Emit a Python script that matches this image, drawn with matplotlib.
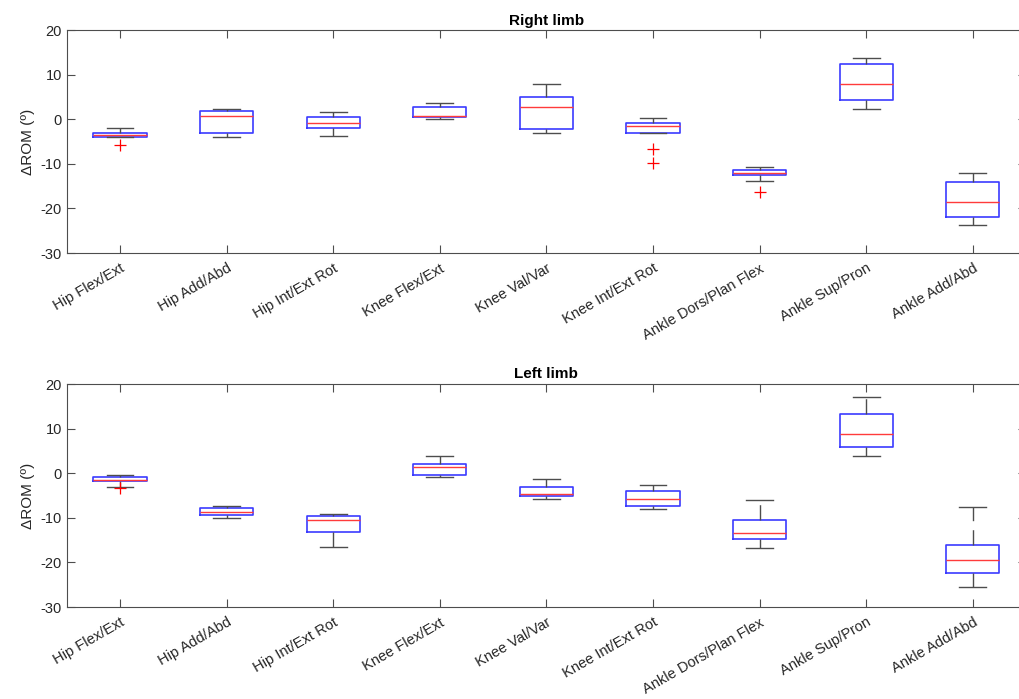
import matplotlib
matplotlib.use("Agg")
import matplotlib.pyplot as plt

categories = ["Hip Flex/Ext", "Hip Add/Abd", "Hip Int/Ext Rot", "Knee Flex/Ext",
              "Knee Val/Var", "Knee Int/Ext Rot", "Ankle Dors/Plan Flex",
              "Ankle Sup/Pron", "Ankle Add/Abd"]

# Right limb box statistics
right_whislo = [-4.0, -4.0, -3.7, 0.0, -3.1, -3.1, -13.8, 2.3, -23.7]
right_q1     = [-4.0, -3.0, -1.9, 0.45, -2.2, -3.0, -12.4, 4.3, -21.9]
right_med    = [-3.5, 0.75, -0.9, 0.75, 2.8, -1.6, -12.0, 8.0, -18.6]
right_q3     = [-3.0, 1.9, 0.5, 2.8, 4.9, -0.8, -11.3, 12.35, -14.1]
right_whishi = [-2.0, 2.2, 1.7, 3.6, 7.9, 0.2, -10.6, 13.7, -12.1]
right_fliers = [[-5.7], [], [], [], [], [-6.6, -9.9], [-16.3], [], []]

# Left limb box statistics
left_whislo = [-3.15, -10.0, -16.5, -0.75, -5.75, -8.1, -16.8, 3.9, -25.6]
left_q1     = [-1.65, -9.3, -13.1, -0.3, -5.1, -7.4, -14.8, 5.8, -22.4]
left_med    = [-1.5, -8.6, -10.6, 1.35, -4.7, -5.7, -13.5, 8.7, -19.4]
left_q3     = [-0.8, -7.85, -9.7, 2.0, -3.0, -3.95, -10.5, 13.2, -16.1]
left_whishi = [-0.3, -7.3, -9.1, 3.8, -1.3, -2.6, -6.05, 17.0, -7.55]
left_fliers = [[-3.4], [], [], [], [], [], [], [], []]

titles = ["Right limb", "Left limb"]
ylabel = "\u0394ROM (\u00ba)"
yticks = [-30, -20, -10, 0, 10, 20]

plt.rcParams['font.family'] = ['Liberation Sans', 'DejaVu Sans']
plt.rcParams['axes.unicode_minus'] = False

fig = plt.figure(figsize=(10.20, 6.99), dpi=100)
axes_pos = [[0.0654, 0.638, 0.9406, 0.319], [0.0654, 0.1316, 0.9406, 0.319]]

datasets = [
    (right_whislo, right_q1, right_med, right_q3, right_whishi, right_fliers),
    (left_whislo, left_q1, left_med, left_q3, left_whishi, left_fliers),
]

grey = '#4d4d4d'
for pos, title, data in zip(axes_pos, titles, datasets):
    ax = fig.add_axes(pos)
    wlo, q1, med, q3, whi, fl = data
    stats = []
    for i in range(len(categories)):
        stats.append(dict(whislo=wlo[i], q1=q1[i], med=med[i], q3=q3[i],
                          whishi=whi[i], fliers=fl[i], label=categories[i]))
    ax.bxp(stats, positions=range(1, len(categories) + 1), widths=0.5,
           capwidths=0.25, showfliers=True,
           boxprops=dict(color='#3b3bff', linewidth=1.2),
           medianprops=dict(color='#ff3b3b', linewidth=1.0),
           whiskerprops=dict(color=grey, linewidth=1.0, linestyle=(0, (11, 6.5))),
           capprops=dict(color=grey, linewidth=1.0),
           flierprops=dict(marker='+', markeredgecolor='red', markersize=8,
                           markeredgewidth=0.9, linestyle='none'))
    ax.set_xlim(0.5, 9.5)
    ax.set_ylim(-30, 20)
    ax.set_yticks(yticks)
    ax.set_xticks(range(1, len(categories) + 1))
    ax.set_xticklabels(categories, rotation=30, ha='right', rotation_mode='anchor',
                       fontsize=10.5, color='#262626')
    ax.tick_params(axis='both', direction='in', top=True, right=True, length=6,
                   width=0.8, color=grey, labelsize=10.5, labelcolor='#262626')
    ax.tick_params(axis='x', pad=6)
    for s in ax.spines.values():
        s.set_color(grey)
        s.set_linewidth(0.8)
    ax.set_ylabel(ylabel, fontsize=11, color='#262626', labelpad=4)
    ax.set_title(title, fontsize=11, fontweight='bold', pad=4)

fig.savefig("out.png", dpi=100)
